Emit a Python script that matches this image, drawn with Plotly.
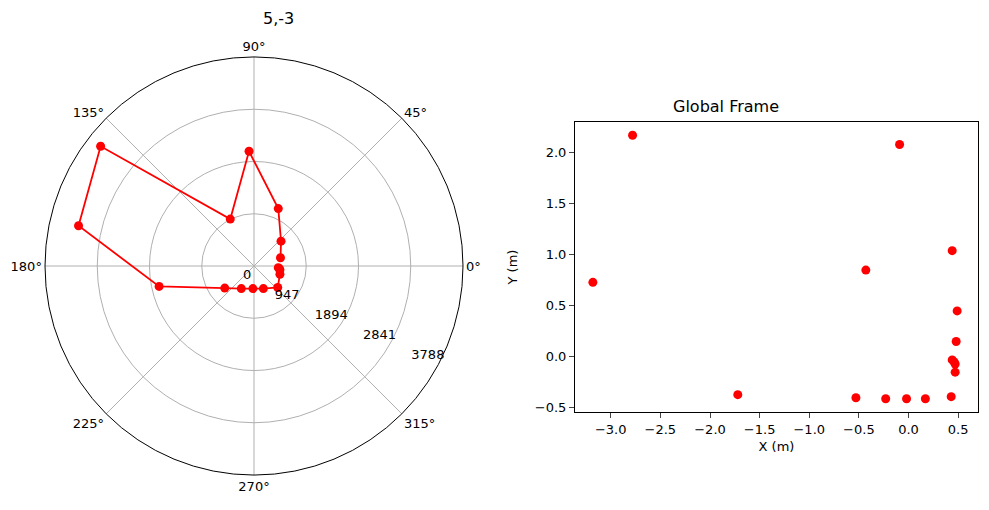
import numpy as np
import plotly.graph_objects as go

xs = [0.48, 0.49, 0.44, -0.09, -0.43, -2.78, -3.18, -1.72, -0.53, -0.23, -0.02, 0.17, 0.43, 0.47, 0.47, 0.46, 0.44]
ys = [0.15, 0.45, 1.04, 2.08, 0.85, 2.17, 0.73, -0.37, -0.40, -0.41, -0.41, -0.41, -0.39, -0.15, -0.07, -0.05, -0.03]
r_ticks = [947, 1894, 2841, 3788]

x = np.array(xs); y = np.array(ys)
r = np.hypot(x, y) * 1000
th = np.degrees(np.arctan2(y, x))

font = dict(family="DejaVu Sans", size=13, color="black")
fig = go.Figure()
fig.add_trace(go.Scatterpolar(r=r, theta=th, mode="lines+markers",
    line=dict(color="red", width=1.8), marker=dict(color="red", size=9), subplot="polar"))
fig.add_trace(go.Scatter(x=xs, y=ys, mode="markers",
    marker=dict(color="red", size=9), xaxis="x", yaxis="y", cliponaxis=False))

fig.update_layout(
    width=989, height=510, margin=dict(l=0, r=0, t=0, b=0),
    paper_bgcolor="white", plot_bgcolor="white", showlegend=False, font=font,
    polar=dict(domain=dict(x=[37/989, 455/989], y=[1-467/510, 1-49/510]), bgcolor="white",
        radialaxis=dict(range=[0, 3788], tickvals=[0]+r_ticks, ticktext=["0"]+[str(v) for v in r_ticks],
            angle=-22.5, tickangle=-22.5, showline=False, gridcolor="#b0b0b0", ticks=""),
        angularaxis=dict(tickmode="array", tickvals=list(range(0, 360, 45)),
            ticktext=[f"{a}°" for a in range(0, 360, 45)], direction="counterclockwise",
            rotation=0, gridcolor="#b0b0b0", linecolor="black", ticks="")),
    xaxis=dict(domain=[567/989, 970/989], range=[-3.36, 0.70], tickvals=[-3,-2.5,-2,-1.5,-1,-0.5,0,0.5],
        ticktext=["−3.0","−2.5","−2.0","−1.5","−1.0","−0.5","0.0","0.5"], automargin=False,
        showline=True, mirror=True, linecolor="black", ticks="outside", showgrid=False, zeroline=False,
        title=dict(text="X (m)", standoff=6, font=dict(size=13)), anchor="y"),
    yaxis=dict(domain=[1-404/510, 1-114/510], range=[-0.54, 2.30], tickvals=[-0.5,0,0.5,1,1.5,2],
        ticktext=["−0.5","0.0","0.5","1.0","1.5","2.0"], automargin=False,
        showline=True, mirror=True, linecolor="black", ticks="outside", showgrid=False, zeroline=False,
        title=dict(text="Y (m)", standoff=14, font=dict(size=13)), anchor="x"),
    annotations=[
        dict(text="5,-3", x=253/989, y=1-10/510, xref="paper", yref="paper", yanchor="middle", showarrow=False, font=dict(size=16)),
        dict(text="Global Frame", x=773/989, y=1-99/510, xref="paper", yref="paper", yanchor="middle", showarrow=False, font=dict(size=16)),
    ],
)
fig.write_html("out.html")
